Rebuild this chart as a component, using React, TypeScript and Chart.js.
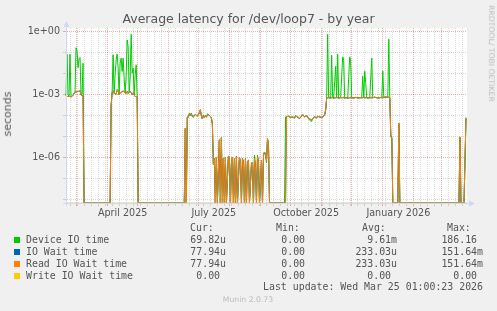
import React, { useEffect, useRef } from 'react';
import { Chart, registerables } from 'chart.js';

Chart.register(...registerables);

// ---------------- data (x = days since 2025-02-18, y = seconds) ----------------
const seg1Days = [1, 2, 3, 4, 5, 6, 7, 8, 9, 10, 11, 12, 13, 14, 15, 16, 17, 18, 19];
const seg1Device = [8.5e-4, 0.083, 9.6e-4, 8.5e-4, 0.083, 7.9e-4, 8.0e-4, 9.0e-4, 1.1e-3, 1.3e-3, 0.17, 0.13, 0.019, 0.05, 0.058, 9.5e-4, 1.0e-3, 0.031, 0];
const seg1Read = [8.0e-4, 8.0e-4, 8.0e-4, 8.2e-4, 8.0e-4, 7.6e-4, 8.2e-4, 9.6e-4, 1.1e-3, 1.3e-3, 1.3e-3, 1.4e-3, 1.4e-3, 1.4e-3, 1.5e-3, 9.5e-4, 8.7e-4, 8.7e-4, 0];

const seg2Days = [45, 46, 47, 48, 49, 50, 51, 52, 53, 54, 55, 56, 57, 58, 59, 60, 61, 62, 63, 64, 65, 66, 67, 68, 69, 70, 71, 72, 73];
const seg2Device = [0, 3e-4, 1.2e-3, 0.078, 1.1e-3, 8.7e-3, 0.045, 0.083, 0.018, 9.5e-4, 0.031, 0.054, 0.0125, 0.054, 6e-3, 1.2e-3, 7e-3, 0.40, 0.19, 1.2e-3, 6e-3, 0.75, 0.0104, 0.018, 9.5e-4, 8.7e-3, 0.026, 6.7e-4, 0];
const seg2Read = [0, 3e-4, 1.3e-3, 1.3e-3, 1.3e-3, 1.1e-3, 1.0e-3, 1.7e-3, 1.5e-3, 9.5e-4, 1.2e-3, 1.3e-3, 1.3e-3, 1.5e-3, 1.3e-3, 1.2e-3, 1.1e-3, 1.4e-3, 1.1e-3, 1.2e-3, 1.4e-3, 1.2e-3, 9.5e-4, 1.2e-3, 9.5e-4, 8.0e-4, 8.0e-4, 7.2e-4, 0];

const seg3Days = [119, 120, 121, 122, 123, 124, 125, 126, 127, 128, 129, 130, 131, 132, 133, 134, 135, 136, 137, 138, 139, 140, 141, 142, 143, 144, 145, 146, 147];
const seg3Device = [0, 2.4e-5, 0, 8.5e-5, 8.3e-5, 1.3e-4, 1.0e-4, 1.3e-4, 9.0e-5, 8.0e-5, 1.0e-4, 1.12e-4, 1.0e-4, 9.3e-5, 1.12e-4, 1.3e-4, 1.86e-4, 1.0e-4, 6.9e-5, 1.0e-4, 7.7e-5, 1.0e-4, 8.3e-5, 1.2e-4, 1.08e-4, 1.0e-4, 9.0e-5, 7.7e-5, 4.0e-5];
const seg3Read = [0, 2.4e-5, 0, 8.5e-5, 8.3e-5, 1.12e-4, 1.0e-4, 1.2e-4, 9.0e-5, 9.0e-5, 1.0e-4, 1.12e-4, 1.0e-4, 9.3e-5, 1.12e-4, 1.3e-4, 1.86e-4, 1.0e-4, 6.9e-5, 1.0e-4, 7.7e-5, 1.0e-4, 8.3e-5, 1.0e-4, 1.08e-4, 1.0e-4, 9.0e-5, 7.7e-5, 4.0e-5];

const seg4Days = [148, 149, 150, 151, 152, 154, 155, 156, 157, 158, 159, 160, 161, 163, 164, 165, 166, 167, 168, 169, 170, 171, 172, 174, 175, 176, 177, 178, 179, 180, 181, 182, 183, 184, 186, 187, 188, 189, 190, 191, 192, 193, 194, 196, 197, 198, 199, 200, 201, 202, 203, 204];
const seg4Device = [4.5e-7, 8.7e-7, 0, 1.04e-6, 0, 6.9e-6, 0, 8.7e-6, 0, 8.7e-7, 0, 1.04e-6, 0, 1.12e-6, 1.04e-6, 0, 4.5e-7, 1.04e-6, 0, 8.7e-7, 0, 1.12e-6, 0, 1.04e-6, 6.0e-7, 0, 8.7e-7, 6.0e-7, 0, 8.7e-7, 0, 6.5e-7, 7.2e-7, 0, 5.0e-7, 6.0e-7, 0, 1.3e-6, 3.7e-7, 0, 1.3e-6, 6.0e-7, 0, 7.2e-7, 0, 1.25e-6, 1.8e-6, 1.3e-6, 5.5e-7, 7.7e-6, 3.7e-6, 0];
const seg4Read = [5.0e-7, 8.7e-7, 0, 1.04e-6, 0, 6.9e-6, 0, 8.7e-6, 0, 8.7e-7, 0, 1.04e-6, 0, 1.12e-6, 1.04e-6, 0, 5.0e-7, 1.04e-6, 0, 8.7e-7, 0, 1.12e-6, 0, 1.04e-6, 6.0e-7, 0, 8.7e-7, 6.0e-7, 0, 8.7e-7, 0, 6.5e-7, 7.2e-7, 0, 5.0e-7, 6.0e-7, 0, 8.7e-7, 3.7e-7, 0, 1.04e-6, 6.0e-7, 0, 7.2e-7, 0, 1.25e-6, 1.8e-6, 1.5e-6, 7.2e-7, 7.7e-6, 3.7e-6, 0];

const seg5Days = [219, 220, 221, 223, 225, 227, 229, 230, 232, 234, 236, 237, 239, 241, 242, 244, 246, 247, 249, 251, 252, 254, 256, 257, 259, 260];
const seg5Device = [0, 8.5e-5, 9.0e-5, 9.0e-5, 8.3e-5, 8.0e-5, 7.5e-5, 9.6e-5, 8.0e-5, 7.0e-5, 9.0e-5, 1.1e-4, 8.5e-5, 1.0e-4, 8.0e-5, 6.0e-5, 5.2e-5, 6.9e-5, 8.5e-5, 7.4e-5, 9.0e-5, 8.5e-5, 7.8e-5, 8.5e-5, 1.05e-4, 1.8e-4];
const seg5Read = [0, 0, 8.5e-5, 9.3e-5, 8.0e-5, 8.5e-5, 7.7e-5, 9.6e-5, 8.5e-5, 7.2e-5, 9.3e-5, 1.15e-4, 8.5e-5, 1.0e-4, 8.0e-5, 6.9e-5, 6.0e-5, 6.9e-5, 8.5e-5, 7.7e-5, 9.3e-5, 8.5e-5, 8.0e-5, 8.5e-5, 1.1e-4, 1.8e-4];

const seg6Days = [261, 262, 263, 265, 266, 267, 268, 270, 271, 272, 273, 275, 277, 278, 279, 281, 282, 284, 285, 286, 288, 290, 292, 294, 296, 297, 298, 299, 300, 301, 302, 304, 306, 307, 309, 311, 313, 315, 316, 317, 318, 320, 322, 323, 324, 325, 326, 327];
const seg6Device = [6.5e-4, 0.74, 7.0e-4, 7.2e-4, 0.074, 7.0e-4, 6.8e-4, 0.022, 7.0e-4, 0.083, 6.6e-4, 7.4e-4, 0.062, 0.043, 6.8e-4, 7.0e-4, 6.4e-4, 0.062, 0.036, 7.0e-4, 6.8e-4, 7.4e-4, 6.8e-4, 7.0e-4, 7.0e-4, 7.4e-3, 7.0e-4, 0.013, 3.3e-3, 7.0e-4, 6.8e-4, 7.0e-4, 0.055, 7.0e-4, 7.4e-4, 7.0e-4, 6.8e-4, 7.2e-4, 7.0e-4, 0.013, 7.2e-4, 7.6e-4, 7.2e-4, 0.43, 7.0e-4, 1.2e-5, 9.0e-6, 0];
const seg6Read = [6.5e-4, 7.0e-4, 7.0e-4, 6.8e-4, 7.0e-4, 7.0e-4, 6.6e-4, 7.0e-4, 7.2e-4, 7.0e-4, 6.8e-4, 7.0e-4, 7.0e-4, 7.2e-4, 6.8e-4, 7.0e-4, 6.6e-4, 7.0e-4, 7.0e-4, 7.0e-4, 6.8e-4, 7.2e-4, 6.8e-4, 7.0e-4, 7.0e-4, 7.0e-4, 7.2e-4, 7.0e-4, 7.0e-4, 7.0e-4, 6.8e-4, 7.0e-4, 7.0e-4, 7.0e-4, 7.4e-4, 7.0e-4, 6.8e-4, 7.2e-4, 7.0e-4, 7.0e-4, 7.2e-4, 7.6e-4, 7.2e-4, 7.4e-4, 7.0e-4, 1.0e-5, 8.0e-6, 0];

const seg7Days = [332, 333, 334, 393, 394, 395, 398, 400];
const seg7Device = [0, 4.0e-5, 0, 0, 9.0e-6, 0, 0, 6.982e-5];
const seg7Read = [0, 4.2e-5, 0, 0, 9.5e-6, 0, 0, 7.794e-5];

const days = [...seg1Days, ...seg2Days, ...seg3Days, ...seg4Days, ...seg5Days, ...seg6Days, ...seg7Days];
const deviceIOTime = [...seg1Device, ...seg2Device, ...seg3Device, ...seg4Device, ...seg5Device, ...seg6Device, ...seg7Device];
const readIOWaitTime = [...seg1Read, ...seg2Read, ...seg3Read, ...seg4Read, ...seg5Read, ...seg6Read, ...seg7Read];
const ioWaitTime = [...seg1Read, ...seg2Read, ...seg3Read, ...seg4Read, ...seg5Read, ...seg6Read, ...seg7Read];
const writeDays = [1, 401];
const writeIOWaitTime = [0, 0];

// axis ticks
const monthStartDays = [11, 42, 72, 103, 133, 164, 195, 225, 256, 286, 317, 348, 376];
const xLabelDays = [57.5, 148.5, 240.5, 332.5];
const xLabels = ['April 2025', 'July 2025', 'October 2025', 'January 2026'];
const yTickValues = [1, 1e-1, 1e-2, 1e-3, 1e-4, 1e-5, 1e-6, 1e-7, 1e-8];
const yTickLabels = ['1e+00', '', '', '1e-03', '', '', '1e-06', '', ''];

// legend
const legendNames = ['Device IO time', 'IO Wait time', 'Read IO Wait time', 'Write IO Wait time'];
const legendColors = ['#00cc00', '#0066b3', '#ff8000', '#ffcc00'];
const curValues = ['69.82u', '77.94u', '77.94u', '0.00 '];
const minValues = ['0.00 ', '0.00 ', '0.00 ', '0.00 '];
const avgValues = ['9.61m', '233.03u', '233.03u', '0.00 '];
const maxValues = ['186.16 ', '151.64m', '151.64m', '0.00 '];

// ---------------- styling ----------------
const W = 497;
const H = 311;
const X_MIN = 1;
const X_MAX = 401;
const Y_MIN = Math.pow(10, -8.176);
const Y_MAX = Math.pow(10, 0.171);
const SANS = "'DejaVu Sans', sans-serif";
const MONO = "'DejaVu Sans Mono', monospace";
const TEXT = '#555555';
const AXIS = '#cfd6f8';
const GRID_MINOR = 'rgba(128,128,128,0.3)';
const GRID_MAJOR = 'rgba(224,80,80,0.45)';
const NONE = 'rgba(0,0,0,0)';

type XTick = { value: number; kind: 'minor' | 'major' | 'label'; label?: string };
const xTickList: XTick[] = [];
for (let d = 5; d <= X_MAX; d += 7) {
  if (!monthStartDays.includes(d)) xTickList.push({ value: d, kind: 'minor' });
}
monthStartDays.forEach((d) => xTickList.push({ value: d, kind: 'major' }));
xLabelDays.forEach((d, i) => xTickList.push({ value: d, kind: 'label', label: xLabels[i] }));
xTickList.sort((a, b) => a.value - b.value);

const kindColor = (k?: string) => (k === 'major' ? GRID_MAJOR : k === 'minor' ? GRID_MINOR : NONE);

const toPoints = (xs: number[], ys: number[]) => xs.map((x, i) => ({ x, y: Math.max(ys[i], Y_MIN) }));

const bgPlugin = {
  id: 'muninBg',
  beforeDraw(chart: any) {
    const { ctx, chartArea: a } = chart;
    ctx.save();
    ctx.fillStyle = '#ffffff';
    ctx.fillRect(a.left, a.top, a.right - a.left, a.bottom - a.top);
    ctx.restore();
  },
};

const arrowPlugin = {
  id: 'muninArrows',
  afterDraw(chart: any) {
    const { ctx, chartArea: a } = chart;
    const lx = a.left + 0.5;
    const by = a.bottom + 0.5;
    ctx.save();
    ctx.strokeStyle = AXIS;
    ctx.fillStyle = AXIS;
    ctx.lineWidth = 1;
    ctx.beginPath();
    ctx.moveTo(lx, a.bottom + 3);
    ctx.lineTo(lx, a.top - 2);
    ctx.moveTo(a.left - 3, by);
    ctx.lineTo(a.right + 3, by);
    ctx.stroke();
    ctx.beginPath();
    ctx.moveTo(lx - 3, a.top - 1);
    ctx.lineTo(lx + 3, a.top - 1);
    ctx.lineTo(lx, a.top - 7);
    ctx.closePath();
    ctx.fill();
    ctx.beginPath();
    ctx.moveTo(a.right + 2, by - 3);
    ctx.lineTo(a.right + 2, by + 3);
    ctx.lineTo(a.right + 8, by);
    ctx.closePath();
    ctx.fill();
    ctx.restore();
  },
};

function Label(props: {
  x: number;
  baseline: number;
  size: number;
  text: string;
  align?: 'left' | 'right' | 'center';
  color?: string;
  mono?: boolean;
}) {
  const { x, baseline, size, text, align = 'left', color = TEXT, mono = false } = props;
  const style: React.CSSProperties = {
    position: 'absolute',
    top: baseline - 0.846 * size,
    fontSize: size,
    lineHeight: `${size}px`,
    color,
    whiteSpace: 'pre',
    fontFamily: mono ? MONO : SANS,
  };
  if (align === 'left') style.left = x;
  else if (align === 'right') style.right = W - x;
  else {
    style.left = x;
    style.transform = 'translateX(-50%)';
  }
  return <div style={style}>{text}</div>;
}

function Rotated(props: { x: number; y: number; size: number; text: string; angle: number; color: string }) {
  const { x, y, size, text, angle, color } = props;
  return (
    <div
      style={{
        position: 'absolute',
        left: 0,
        top: 0,
        fontSize: size,
        lineHeight: `${size}px`,
        fontFamily: SANS,
        color,
        whiteSpace: 'pre',
        transformOrigin: '0 0',
        transform: `translate(${x}px, ${y}px) rotate(${angle}deg) translate(-50%, ${-0.846 * size}px)`,
      }}
    >
      {text}
    </div>
  );
}

export default function App() {
  const ref = useRef<HTMLCanvasElement>(null);

  useEffect(() => {
    const canvas = ref.current;
    if (!canvas) return;
    const lineBase = { borderWidth: 1, pointRadius: 0, tension: 0, fill: false, clip: false as any };
    const chart = new Chart(canvas, {
      type: 'line',
      data: {
        datasets: [
          { ...lineBase, label: legendNames[0], data: toPoints(days, deviceIOTime), borderColor: legendColors[0], order: 4 },
          { ...lineBase, label: legendNames[1], data: toPoints(days, ioWaitTime), borderColor: legendColors[1], order: 3 },
          { ...lineBase, label: legendNames[2], data: toPoints(days, readIOWaitTime), borderColor: legendColors[2], order: 2 },
          { ...lineBase, label: legendNames[3], data: toPoints(writeDays, writeIOWaitTime), borderColor: 'rgba(230,190,60,0.7)', order: 1 },
        ],
      },
      options: {
        animation: false,
        responsive: false,
        devicePixelRatio: 1,
        events: [],
        layout: { padding: { left: 0, top: 28, right: W - 467, bottom: 88 } },
        plugins: { legend: { display: false }, tooltip: { enabled: false }, title: { display: false } },
        scales: {
          x: {
            type: 'linear',
            min: X_MIN,
            max: X_MAX,
            afterBuildTicks: (s: any) => {
              s.ticks = xTickList.map((t) => ({ value: t.value }));
            },
            afterFit: (s: any) => {
              s.height = 20;
            },
            ticks: {
              autoSkip: false,
              maxRotation: 0,
              minRotation: 0,
              padding: 2,
              color: TEXT,
              font: { family: SANS, size: 9.6 },
              callback: (_v: any, i: number) => xTickList[i]?.label ?? '',
            },
            grid: {
              color: (c: any) => kindColor(xTickList[c.index]?.kind),
              tickColor: (c: any) => kindColor(xTickList[c.index]?.kind),
              tickLength: 3,
              lineWidth: 1,
            },
            border: { display: true, color: AXIS, width: 1, dash: [1, 1] },
          },
          y: {
            type: 'logarithmic',
            min: Y_MIN,
            max: Y_MAX,
            afterBuildTicks: (s: any) => {
              s.ticks = yTickValues.map((v) => ({ value: v }));
            },
            afterFit: (s: any) => {
              s.width = 66;
            },
            ticks: {
              autoSkip: false,
              padding: 3,
              color: TEXT,
              font: { family: SANS, size: 9.6 },
              callback: (_v: any, i: number) => yTickLabels[i] ?? '',
            },
            grid: {
              color: (c: any) => (yTickLabels[c.index] ? GRID_MAJOR : GRID_MINOR),
              tickColor: (c: any) => (yTickLabels[c.index] ? GRID_MAJOR : GRID_MINOR),
              tickLength: 3,
              lineWidth: 1,
            },
            border: { display: true, color: AXIS, width: 1, dash: [1, 1] },
          },
        },
      } as any,
      plugins: [bgPlugin, arrowPlugin],
    });
    return () => chart.destroy();
  }, []);

  const rowBase = 243.3;
  const legendSize = 9.9;

  return (
    <div
      style={{
        position: 'absolute',
        left: 0,
        top: 0,
        width: W,
        height: H,
        background: '#f0f0f0',
        overflow: 'hidden',
        fontFamily: SANS,
      }}
    >
      <canvas ref={ref} width={W} height={H} style={{ position: 'absolute', left: 0, top: 0, width: W, height: H }} />
      <Label x={248.5} baseline={23.5} size={12.5} align="center" text="Average latency for /dev/loop7 - by year" />
      <Rotated x={11.2} y={114} size={11} angle={-90} color={TEXT} text="seconds" />
      <Rotated x={488.4} y={53.5} size={7.7} angle={90} color="#bbbbbb" text="RRDTOOL/ TOBI OETIKER" />

      <Label x={190} baseline={231.8} size={legendSize} mono text="Cur:" />
      <Label x={276} baseline={231.8} size={legendSize} mono text="Min:" />
      <Label x={362} baseline={231.8} size={legendSize} mono text="Avg:" />
      <Label x={447} baseline={231.8} size={legendSize} mono text="Max:" />

      {legendNames.map((name, i) => (
        <React.Fragment key={name}>
          <div
            style={{
              position: 'absolute',
              left: 14,
              top: 237 + 12 * i,
              width: 6,
              height: 6,
              background: legendColors[i],
            }}
          />
          <Label x={26} baseline={rowBase + 12 * i} size={legendSize} mono text={name} />
          <Label x={226} baseline={rowBase + 12 * i} size={legendSize} mono align="right" text={curValues[i]} />
          <Label x={311} baseline={rowBase + 12 * i} size={legendSize} mono align="right" text={minValues[i]} />
          <Label x={397} baseline={rowBase + 12 * i} size={legendSize} mono align="right" text={avgValues[i]} />
          <Label x={483} baseline={rowBase + 12 * i} size={legendSize} mono align="right" text={maxValues[i]} />
        </React.Fragment>
      ))}

      <Label x={483} baseline={290.8} size={legendSize} mono align="right" text="Last update: Wed Mar 25 01:00:23 2026" />
      <Label x={248} baseline={302.3} size={7.7} align="center" color="#bbbbbb" text="Munin 2.0.73" />
    </div>
  );
}
